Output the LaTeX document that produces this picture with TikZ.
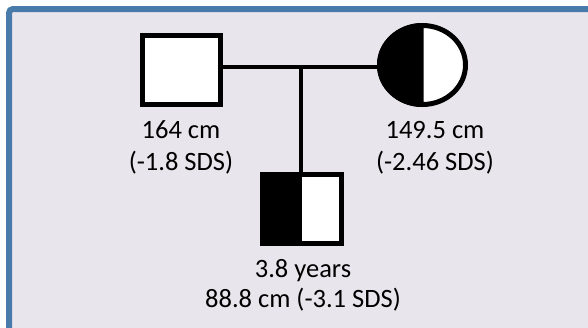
\documentclass[tikz,border=0pt]{standalone}
\usepackage{fontspec}
\setmainfont{Carlito}
\usetikzlibrary{shapes.geometric}
\definecolor{bgfill}{RGB}{233,229,236}
\definecolor{frameblue}{RGB}{72,122,170}
\begin{document}
\begin{tikzpicture}[x=1pt,y=-1pt,
  person/.style={draw=black, line width=5pt, fill=white, inner sep=0pt},
  link/.style={line width=4pt, black},
  lbl/.style={align=center, inner sep=0pt, anchor=base, font=\fontsize{26.5}{32}\selectfont}]
\useasboundingbox (0,0) rectangle (588,327);
\clip (0,0) rectangle (588,327);
\draw[frameblue, fill=bgfill, line width=6pt, rounded corners=4pt] (9,9) rectangle (620,360);
\coordinate (mid) at (301,67);
\node[person, minimum width=78pt, minimum height=69pt] (father) at (181.5,70) {};
\node[person, ellipse, minimum width=86pt, minimum height=79pt] (mother) at (422.5,65) {};
\begin{scope}
  \clip ([xshift=-60pt,yshift=-60pt]mother.center) rectangle ([xshift=1pt,yshift=60pt]mother.center);
  \node[person, ellipse, fill=black, minimum width=86pt, minimum height=79pt] at (mother.center) {};
\end{scope}
\node[person, minimum width=79pt, minimum height=69pt] (child) at (302,209) {};
\fill[black] (child.north west) rectangle (child.south);
\draw[link] (father.east |- mid) -- (mother.west |- mid);
\draw[link] (mid) -- (mid |- child.north);
\node[lbl] (flabel) at (181,170) {164 cm\\(-1.8 SDS)};
\node[lbl] (mlabel) at (435,170) {149.5 cm\\(-2.46 SDS)};
\node[lbl, font=\fontsize{26.5}{30}\selectfont] (clabel) at (303,307) {3.8 years\\88.8 cm (-3.1 SDS)};
\end{tikzpicture}
\end{document}
